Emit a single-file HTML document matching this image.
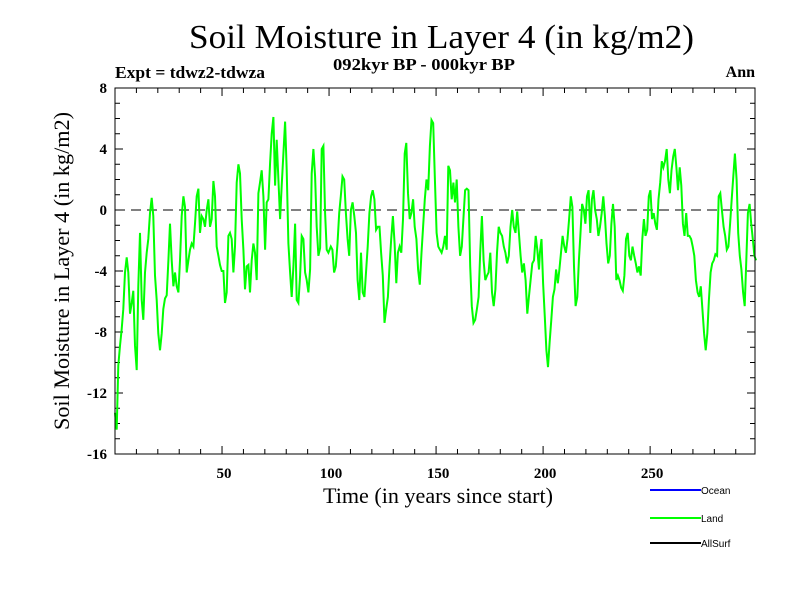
<!DOCTYPE html>
<html><head><meta charset="utf-8"><style>
body{margin:0;background:#fff}
svg{display:block}
text{font-family:"Liberation Serif",serif;fill:#000}
</style></head><body>
<svg id="chart" width="800" height="600" viewBox="0 0 800 600" xmlns="http://www.w3.org/2000/svg">
<text x="189" y="48" font-size="34" textLength="505" lengthAdjust="spacingAndGlyphs">Soil Moisture in Layer 4 (in kg/m2)</text>
<text x="333" y="70" font-size="17" font-weight="bold" textLength="182" lengthAdjust="spacingAndGlyphs">092kyr BP - 000kyr BP</text>
<text x="115" y="78" font-size="17" font-weight="bold" textLength="150" lengthAdjust="spacingAndGlyphs">Expt = tdwz2-tdwza</text>
<text x="755" y="77" font-size="16" font-weight="bold" text-anchor="end">Ann</text>
<text x="323" y="503" font-size="22" textLength="230" lengthAdjust="spacingAndGlyphs">Time (in years since start)</text>
<text x="0" y="0" font-size="22" textLength="318" lengthAdjust="spacingAndGlyphs" transform="translate(69,430) rotate(-90)">Soil Moisture in Layer 4 (in kg/m2)</text>
<g id="ticks"></g>
<g id="series"></g>
<rect x="115" y="88" width="640" height="366" fill="none" stroke="#000" stroke-width="1"/>
<g>
<line x1="650" y1="490" x2="701" y2="490" stroke="#0000ff" stroke-width="2"/>
<text x="701" y="494" font-size="10" style="font-family:'Liberation Sans',sans-serif">Ocean</text>
<line x1="650" y1="518" x2="701" y2="518" stroke="#00ff00" stroke-width="2"/>
<text x="701" y="522" font-size="10" style="font-family:'Liberation Sans',sans-serif">Land</text>
<line x1="650" y1="543" x2="701" y2="543" stroke="#000" stroke-width="2"/>
<text x="701" y="547" font-size="10" style="font-family:'Liberation Sans',sans-serif">AllSurf</text>
</g>
</svg>
<script>
const xTickLabels = [50, 100, 150, 200, 250];
const yTickLabels = [-16, -12, -8, -4, 0, 4, 8];
const segStartYears = [0, 100.8, 198.5];
const segEndYears = [99.7, 198.1, 299.5];
const landSeg1 = [-13.3,-14.4,-10.2,-8.9,-7.8,-6.5,-4.1,-3.1,-4.1,-6.8,-6.1,-5.3,-8.9,-10.5,-5.0,-1.5,-5.9,-7.2,-4.1,-2.8,-1.9,-0.2,0.8,-0.4,-4.3,-5.9,-8.1,-9.2,-8.1,-6.5,-5.8,-5.6,-3.3,-0.9,-3.3,-5.0,-4.1,-5.0,-5.4,-3.3,-0.4,0.9,0.2,-4.1,-3.3,-2.6,-2.2,-2.4,-0.9,0.9,1.4,-1.5,-0.4,-0.6,-1.1,0.0,0.7,-1.1,-0.6,1.9,0.9,-2.4,-3.0,-3.6,-4.0,-4.0,-6.1,-5.4,-1.7,-1.5,-1.9,-4.1,-2.4,1.8,3.0,2.4,-0.6,-2.6,-5.2,-3.7,-3.6,-5.4,-3.3,-2.2,-2.8,-4.6,1.1,1.8,2.6,0.9,-2.6,0.5,0.7,3.1,5.0,6.1,1.6,4.6,2.0,-0.6,1.6,3.7,5.8,2.6,-2.2,-4.1,-5.7,-3.7,-0.9,-5.9,-6.1,-4.3,-1.7,-1.9,-4.1,-4.6,-5.4,-3.9,2.4,4.0,2.2,-1.1,-3.0,-2.5,4.0,4.2,-0.2,-2.6,-2.8];
const landSeg2 = [-2.4,-2.6,-4.1,-3.7,-2.2,-0.2,0.9,2.2,2.0,-0.2,-1.9,-3.0,0.0,0.5,-0.4,-1.5,-4.6,-5.9,-2.8,-5.4,-5.7,-4.1,-2.4,-0.2,0.9,1.3,0.7,-1.3,-1.1,-1.1,-2.8,-4.3,-7.4,-6.5,-5.7,-3.7,-1.9,-0.4,-2.2,-4.8,-2.8,-2.4,-2.8,-0.6,3.7,4.4,1.1,-0.6,-0.2,0.7,-1.1,-1.9,-3.9,-4.9,-2.8,-1.1,0.7,2.0,1.3,4.2,5.9,5.7,2.0,-1.5,-2.4,-2.6,-2.8,-2.4,-1.7,-2.6,2.9,2.6,0.7,1.8,0.5,2.0,-1.1,-3.0,-2.4,-0.6,1.3,1.4,1.3,-3.7,-6.3,-7.4,-7.2,-6.5,-5.7,-2.8,-0.4,-3.3,-4.6,-4.3,-4.1,-2.8,-5.4,-6.3,-5.2,-2.8,-1.1,-1.5,-1.7,-2.4,-2.8,-3.5,-3.0,-1.1,0.0,-1.1,-1.5,-0.1,-1.5,-3.0,-4.1,-3.5,-4.6,-6.8,-5.7,-4.6,-3.5,-3.3,-1.7,-2.6,-3.9];
const landSeg3 = [-2.8,-1.9,-4.8,-7.0,-9.2,-10.3,-8.7,-7.2,-5.7,-5.2,-3.9,-4.8,-3.9,-2.8,-1.7,-2.4,-2.8,-1.9,-0.6,0.9,0.2,-3.7,-6.3,-5.7,-3.3,-1.5,0.4,0.0,-0.9,0.9,1.3,-1.5,0.7,1.3,0.0,-0.6,-1.7,-1.1,-0.2,0.9,-0.4,-2.2,-3.5,-3.0,-0.9,0.4,-1.1,-4.6,-4.3,-4.6,-5.1,-5.3,-4.3,-1.9,-1.5,-3.0,-3.3,-2.4,-3.0,-3.5,-4.1,-3.7,-4.3,-1.9,-0.6,-1.7,-1.3,0.9,1.3,-0.6,-0.2,-0.9,-1.3,0.7,1.8,3.2,2.8,3.2,4.0,2.0,1.1,2.6,3.5,4.0,2.8,1.3,2.8,1.6,-0.9,-1.7,-0.2,-1.7,-1.7,-1.9,-2.4,-3.0,-4.6,-5.4,-5.7,-5.0,-6.5,-8.1,-9.2,-8.1,-5.9,-4.1,-3.5,-3.3,-2.9,-3.0,0.9,1.1,0.0,-1.1,-1.7,-2.6,-2.4,-0.9,0.7,2.2,3.7,2.0,-1.5,-3.0,-3.9,-5.4,-6.3,-3.3,-0.2,0.4,-0.9,-1.9,-3.0,-3.3];
const landSegments = [landSeg1, landSeg2, landSeg3];

const X0=115, X1=755, Y0=454, Y1=88, XMIN=0, XMAX=299, YMIN=-16, YMAX=8;
const NS='http://www.w3.org/2000/svg';
function xs(v){return X0+(v-XMIN)/(XMAX-XMIN)*(X1-X0);}
function ys(v){return Y0-(v-YMIN)/(YMAX-YMIN)*(Y0-Y1);}
function mk(tag,attrs){const e=document.createElementNS(NS,tag);for(const k in attrs)e.setAttribute(k,attrs[k]);return e;}
const ticks=document.getElementById('ticks');
for(let v=YMIN;v<=YMAX;v++){
  const major=(v%4===0), L=major?8:5, y=ys(v);
  const a=mk('line',{x1:X0,y1:y,x2:X0+L,y2:y,stroke:'#000'});
  
  
  ticks.appendChild(a);
  const b=mk('line',{x1:X1-L,y1:y,x2:X1,y2:y,stroke:'#000'});
  
  
  ticks.appendChild(b);
}
for(let v=10;v<=XMAX;v+=10){
  const major=(v%50===0), L=major?8:5, x=xs(v);
  const a=mk('line',{x1:x,y1:Y0,x2:x,y2:Y0-L,stroke:'#000'});
  
  
  ticks.appendChild(a);
  const b=mk('line',{x1:x,y1:Y1,x2:x,y2:Y1+L,stroke:'#000'});
  
  
  ticks.appendChild(b);
}
yTickLabels.forEach(v=>{
  const t=mk('text',{x:107,y:ys(v)+5,'font-size':15,'font-weight':'bold','text-anchor':'end'});
  t.textContent=v;
  
  
  ticks.appendChild(t);
});
xTickLabels.forEach(v=>{
  const t=mk('text',{x:xs(v)+2,y:478,'font-size':15,'font-weight':'bold','text-anchor':'middle'});
  t.textContent=v;
  
  
  ticks.appendChild(t);
});
const series=document.getElementById('series');
const zero=mk('line',{x1:X0,y1:ys(0),x2:X1,y2:ys(0),stroke:'#000','stroke-dasharray':'10,6'});


series.appendChild(zero);
let pts=[];
landSegments.forEach((seg,si)=>{
  const s=segStartYears[si], e=segEndYears[si], n=seg.length;
  seg.forEach((v,i)=>{const yr=s+(e-s)*i/(n-1);pts.push(xs(yr).toFixed(1)+','+ys(v).toFixed(1));});
});
const line=mk('polyline',{points:pts.join(' '),fill:'none',stroke:'#00ff00','stroke-width':2,'stroke-linejoin':'miter'});


series.appendChild(line);
</script>
</body></html>
